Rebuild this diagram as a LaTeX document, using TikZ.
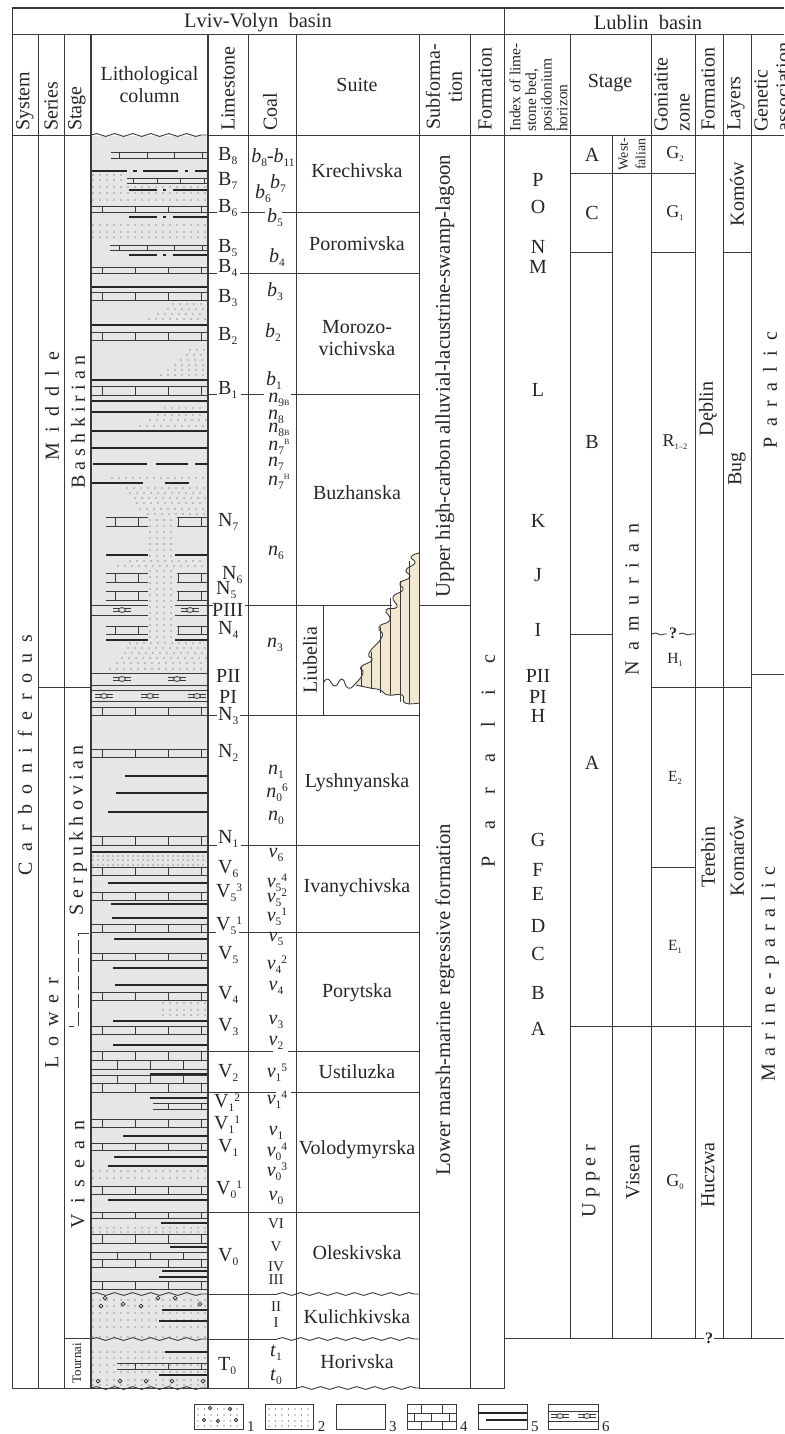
\documentclass[tikz,border=0pt]{standalone}
\usepackage{fontspec}
\setmainfont{Liberation Serif}
\usetikzlibrary{decorations.pathmorphing}
\definecolor{rulegray}{HTML}{3A3A3A}
\definecolor{lithgray}{HTML}{E6E6E6}
\definecolor{lensfill}{HTML}{F2E8D2}
\newcommand{\subn}[1]{\raisebox{-4pt}{\fontsize{11.5}{11.5}\selectfont #1}}
\newcommand{\supn}[1]{\raisebox{6pt}{\fontsize{11.5}{11.5}\selectfont #1}}
\newcommand{\subt}[1]{\raisebox{-3pt}{\fontsize{8}{8}\selectfont #1}}
\newcommand{\subz}[1]{\raisebox{-3pt}{\fontsize{8.5}{8.5}\selectfont #1}}
\newcommand{\ci}[1]{\textit{#1}}
\newcommand{\spread}[2]{\makebox[#1pt][s]{#2}}
\newcommand{\limeband}[4]{% y1, y2, left end, verticals
  \draw[limeline] (#3,#1) -- (208,#1) (#3,#2) -- (208,#2);
  \begin{scope}
    \clip (#3,#1) rectangle (208,#2);
    \foreach \xx in #4 {\draw[limeline] (\xx,#1) -- (\xx,#2);}
  \end{scope}}
\newcommand{\limesides}[2]{% y1, y2, broken by the sandy funnel
  \draw[limeline] (106,#1) -- (148,#1) (106,#2) -- (148,#2) (177,#1) -- (208,#1) (177,#2) -- (208,#2);
  \foreach \xx in {115,138,178,201} {\draw[limeline] (\xx,#1) -- (\xx,#2);}}
\newcommand{\dotrow}[4]{% y, x1, x2, step
  \pgfmathsetmacro{\nextx}{#2+#4}
  \foreach \xx in {#2,\nextx,...,#3} {\fill[rulegray] (\xx,#1) circle (.65pt);}}
\newcommand{\lensmark}[2]{% x, y
  \draw[limeline] (#1-9,#2-1.6) -- (#1+9,#2-1.6) (#1-9,#2+1.6) -- (#1+9,#2+1.6);
  \draw[limeline,fill=lithgray] (#1,#2) ellipse (3.4pt and 2.4pt);}
\tikzset{
    limeline/.style={draw=rulegray, line width=.85pt},
    coalbar/.style={draw=black!85, line width=2.8pt},
    grid/.style={draw=rulegray, line width=.9pt},
    wavy/.style={draw=rulegray, line width=.9pt, decorate, decoration={snake, amplitude=1.4pt, segment length=18pt}}
}
\begin{document}
\begin{tikzpicture}[x=1pt, y=-1pt,
    txt/.style={font=\fontsize{20}{22}\selectfont, text=black!85, inner sep=0pt},
    rot/.style={txt, rotate=90},
    rotup/.style={rot, anchor=west},
    small/.style={inner sep=0pt, text=black!85, font=\fontsize{13}{15.6}\selectfont},
    limelab/.style={txt, anchor=west},
    coallab/.style={txt}]

\useasboundingbox (0,0) rectangle (784,1434);

% Lithological column background
\fill[lithgray] (91,136) rectangle (208,1388);

% Sandstone dots
\foreach \y in {175,180} {\dotrow{\y}{93}{127}{7}}
\foreach \y in {187,193,200,225,232,237} {\dotrow{\y}{93}{206}{7}}
\foreach \y/\a in {304/173,309/168,314/158,319/149,350/190,355/187,360/181,365/175,370/168,375/161,
    408/165,415/158,420/150,426/140,478/112,488/127,493/130,498/135,503/137,509/140,514/148,561/130,566/118,
    643/130,648/128,653/125,658/122,663/117,669/110,1003/163,1010/163,1015/163} {\dotrow{\y}{\a}{206}{7}}
\foreach \y in {520,526,532,538,544,550,556,571,577,583,589,595,601,607,613,619,625,631,637}
    {\dotrow{\y}{150}{174}{7}}
\foreach \y in {856,860,865} {\dotrow{\y}{93}{206}{5}}
\foreach \y in {1171,1178,1228,1232,1300,1306,1313,1320,1327,1337,1358,1365,1372,1380,1385} {\dotrow{\y}{93}{206}{7}}
\dotrow{1352}{93}{165}{7}

% Pebbles
\foreach \x/\y in {105/1298,158/1298,175/1298,101/1306,123/1304,141/1306,200/1304,98/1381,120/1381,146/1381,172/1381,203/1381}
    \draw[limeline] (\x,\y) circle (1.9pt);

% Limestone beds
\limeband{152}{158}{111}{{119,147,174,202}}
\limeband{178}{183}{127}{{133,157,180,204}}
\limeband{245}{250}{110}{{119,147,174,202}}
\foreach \a/\b in {206/212,267/273,292/300,332/340,386/395,707/715,749/757,836/845,867/875,892/900,924/932,953/960,992/1000,
    1026/1034,1051/1060,1083/1092,1119/1127,1143/1150,1186/1194,1212/1218,1234/1243,1259/1267,1281/1289}
    {\limeband{\a}{\b}{91}{{102,135,168,201}}}
\limeband{1060}{1069}{91}{{117,150,183}}
\limeband{1075}{1083}{91}{{117,150,183}}
\limeband{1252}{1259}{91}{{117,150,183}}
\limeband{1103}{1109}{153}{{168,201}}
\limeband{1363}{1369}{117}{{135,168,201}}
\limesides{517}{526}
\limesides{573}{582}
\limesides{591}{600}
\limesides{626}{634}

% Siderite lenses
\foreach \a/\b in {91/148,175/208} \draw[limeline] (\a,605) -- (\b,605) (\a,615) -- (\b,615);
\draw[limeline] (91,673) -- (208,673) (91,685) -- (208,685) (91,690) -- (208,690) (91,701) -- (208,701);
\foreach \x/\y in {122/610,190/610,122/679,177/679,104/696,150/696,197/696} {\lensmark{\x}{\y}}

% Coal seams
\foreach \y in {287,325,380,401,412,431,448,852} \draw[coalbar] (91,\y) -- (208,\y);
\foreach \y/\a in {776/125,793/116,812/108,883/108,904/111,918/112,939/114,968/113,985/115,1021/113,1045/113,1098/150,
    1136/123,1157/114,1166/108,1200/108,1223/161,1247/170,1271/162,1277/159,1310/162,1321/159,1352/165,1375/159}
    \draw[coalbar] (\a,\y) -- (208,\y);
\draw[coalbar, line width=1.3pt] (150,1074) -- (208,1074);
\draw[coalbar] (91,171) -- (127,171) (133,171) -- (137,171) (143,171) -- (178,171) (185,171) -- (188,171) (195,171) -- (208,171);
\foreach \y in {190,217,255}
    \draw[coalbar] (129,\y) -- (157,\y) (163,\y) -- (166,\y) (173,\y) -- (208,\y);
\draw[coalbar] (93,464) -- (147,464) (156,464) -- (188,464) (195,464) -- (208,464);
\draw[coalbar] (91,483) -- (143,483) (165,483) -- (189,483);
\foreach \a/\b in {106/148,175/208} \draw[coalbar] (\a,555) -- (\b,555) (\a,640) -- (\b,640);

% Liubelia tongue
\fill[lensfill] plot[smooth, tension=.9] coordinates {(419,553) (411,557) (415,563) (406,570) (410,577) (400,583) (403,590) (393,597)
    (397,607) (386,610) (390,620) (379,627) (382,637) (369,653) (372,660) (361,667) (363,673) (356,683)}
    -- plot[smooth, tension=.9] coordinates {(356,685) (370,688) (380,690) (388,695) (402,695) (405,703) (419,703)} -- cycle;
\foreach \x/\a/\b in {409/561/703,400/581/702,390/598/695,380/627/693,371/652/689,361/667/687}
    \draw[limeline] (\x,\a) -- (\x,\b);
\draw[grid] plot[smooth, tension=.9] coordinates {(323.5,683) (328,679) (335,686) (342,679) (348,688) (356,683) (363,673)
    (361,667) (372,660) (369,653) (382,637) (379,627) (390,620) (386,610) (397,607) (393,597) (403,590) (400,583) (410,577)
    (406,570) (415,563) (411,557) (419,553)};
\draw[grid] plot[smooth, tension=.9] coordinates {(356,685) (370,688) (380,690) (388,695) (402,695) (405,703) (419,703)};

% Table rules
\foreach \x in {12,38,64.5,296,248,419,470,504.5} \draw[grid] (\x,34) -- (\x,1388);
\foreach \x in {91,208} \draw[grid, line width=1.2pt] (\x,34) -- (\x,1388);
\foreach \x in {570,651,695,723,751} \draw[grid] (\x,34) -- (\x,1338);
\draw[grid] (612,135) -- (612,1338);
\draw[grid] (12,8) -- (12,34) (504.5,8) -- (504.5,34);
\draw[grid, line width=1.2pt] (12,8) -- (784,8);
\draw[grid] (12,34) -- (784,34);
\draw[grid] (12,135) -- (91,135) (208,135) -- (784,135);
\draw[wavy] (91,135) -- (208,135);
\draw[grid] (38,687.5) -- (91,687.5);
\draw[grid] (64.5,1338.5) -- (91,1338.5);
\draw[grid, dash pattern=on 14pt off 4pt] (89,933) -- (78,933) -- (78,1026) -- (69,1026);
\draw[grid] (323.5,605) -- (323.5,715);

% Suite boundaries
\foreach \y/\p in {212/{208/217,241/265,282/419},273/{208/217,240/419},394.6/{208/217,241/264,291/419},
    715/{208/217,240/419},845/{208/217,241/419},932/{208/216,239/419},1051/{208/273,288/419},
    1092/{208/276,291/419},1212/{208/419},1294/{208/277},1339/{208/277},1388/{12/297,419/504.5}}
    {\foreach \a/\b in \p {\draw[grid] (\a,\y) -- (\b,\y);}}
\draw[grid] (208,605) -- (213,605) (245,605) -- (392,605) (419,605) -- (470,605);
\draw[wavy] (277,1294) -- (419,1294);
\draw[wavy] (277,1339) -- (419,1339);
\draw[wavy] (297,1388) -- (419,1388);
\draw[wavy] (91,1294) -- (208,1294);
\draw[wavy] (91,1339) -- (208,1339);
\draw[wavy] (91,1388) -- (208,1388);

% Lublin boundaries
\draw[grid] (570,173) -- (695,173);
\draw[grid] (570,252) -- (612,252) (651,252) -- (695,252) (723,252) -- (751,252);
\draw[grid] (570,634) -- (612,634);
\draw[grid] (651,687) -- (751,687);
\draw[grid] (751,674) -- (784,674);
\draw[grid] (651,867) -- (695,867);
\draw[grid] (570,1026) -- (751,1026);
\draw[grid] (504.5,1338.5) -- (704,1338.5) (714,1338.5) -- (784,1338.5);
\draw[wavy, decoration={segment length=11pt, amplitude=1pt}] (652,634) -- (667,634);
\draw[wavy, decoration={segment length=11pt, amplitude=1pt}] (679,634) -- (695,634);

% Basin titles and column heads
\node[txt, font=\fontsize{20.5}{22}\selectfont] (lviv) at (258,23) {Lviv-Volyn\ \ basin};
\node[txt, font=\fontsize{20.5}{22}\selectfont] (lublin) at (648,22) {Lublin\ \ basin};
\foreach \x/\t in {25/System,51/Series,77/Stage,228/Limestone,270/Coal,485/Formation,708/Formation,736/Layers}
    \node[rotup] (head\x) at (\x,131) {\t};
\node[txt, align=center] (lithhead) at (149.5,85) {Lithological\\column};
\node[txt] (suitehead) at (357,85) {Suite};
\node[rot, align=center] (subformhead) at (444,87) {Subforma-\\tion};
\node[small, rotate=90, anchor=west, align=left, font=\fontsize{15.5}{15.7}\selectfont] (indexhead) at (538.5,132) {Index of lime-\\stone bed,\\posidonium\\horizon};
\node[txt] (stagehead) at (610,83) {Stage};
\node[rotup, align=left] (goniahead) at (672,132) {Goniatite\\zone};
\node[rotup, align=left] (genhead) at (772,132) {Genetic\\association};

% Stratigraphic names
\node[rot] (system) at (25,755) {\spread{240}{C a r b o n i f e r o u s}};
\node[rot] (middle) at (52,406) {\spread{108}{M i d d l e}};
\node[rot] (lower) at (52,1023) {\spread{90}{L o w e r}};
\node[rot] (bashkirian) at (78,422) {\spread{133}{B a s h k i r i a n}};
\node[rot] (serpukhovian) at (78,830) {\spread{170}{S e r p u k h o v i a n}};
\node[rot] (visean) at (78,1174) {\spread{108}{V i s e a n}};
\node[small, rotate=90] (tournai) at (77,1363) {Tournai};

% Limestone indices
\foreach \x/\y/\t in {218/156/B\subn{8},218/181/B\subn{7},218/208/B\subn{6},218/248/B\subn{5},218/268/B\subn{4},218/298/B\subn{3},
    218/336/B\subn{2},218/390/B\subn{1},218/522/N\subn{7},222/575/N\subn{6},216/590/N\subn{5},212/610/PIII,218/630/N\subn{4},
    216/676/PII,219/697/PI,218/716/N\subn{3},218/753/N\subn{2},218/839/N\subn{1},218/869/V\subn{6},216/893/V\subn{5}\supn{3},
    216/926/V\subn{5}\supn{1},218/955/V\subn{5},218/995/V\subn{4},218/1027/V\subn{3},218/1073/V\subn{2},214/1103/V\subn{1}\supn{2},
    214/1125/V\subn{1}\supn{1},218/1148/V\subn{1},216/1190/V\subn{0}\supn{1},218/1257/V\subn{0},218/1366/T\subn{0}}
    \node[limelab] (lime\y) at (\x,\y) {\t};

% Coal indices
\foreach \x/\y/\t in {273/158/\ci{b}\subn{8}-\ci{b}\subn{11},278/184/\ci{b}\subn{7},263/194/\ci{b}\subn{6},275/218/\ci{b}\subn{5},
    277/258/\ci{b}\subn{4},275/292/\ci{b}\subn{3},273/333/\ci{b}\subn{2},274/381/\ci{b}\subn{1},
    279/400/\ci{n}\subn{9}\subt{B},276/417/\ci{n}\subn{8},279/430/\ci{n}\subn{8}\subt{B},279/447/\ci{n}\subn{7}\raisebox{9pt}{\subt{B}},
    276/464/\ci{n}\subn{7},279/482/\ci{n}\subn{7}\raisebox{9pt}{\subt{H}},276/553/\ci{n}\subn{6},275/645/\ci{n}\subn{3},
    276/772/\ci{n}\subn{1},277/793/\ci{n}\subn{0}\supn{6},276/818/\ci{n}\subn{0},276/855/\ci{v}\subn{6},277/883/\ci{v}\subn{5}\supn{4},
    277/898/\ci{v}\subn{5}\supn{2},277/917/\ci{v}\subn{5}\supn{1},276/939/\ci{v}\subn{5},277/965/\ci{v}\subn{4}\supn{2},
    276/988/\ci{v}\subn{4},276/1022/\ci{v}\subn{3},276/1043/\ci{v}\subn{2},277/1073/\ci{v}\subn{1}\supn{5},277/1100/\ci{v}\subn{1}\supn{4},
    276/1133/\ci{v}\subn{1},277/1152/\ci{v}\subn{0}\supn{4},277/1172/\ci{v}\subn{0}\supn{3},276/1198/\ci{v}\subn{0},
    276/1353/\ci{t}\subn{1},276/1377/\ci{t}\subn{0}}
    \node[coallab] (coal\y) at (\x,\y) {\t};
\foreach \y/\t in {1224/VI,1247/V,1267/IV,1280/III,1307/II,1323/I}
    \node[small, font=\fontsize{15}{15}\selectfont] (roman\y) at (276,\y) {\t};

% Suites
\foreach \y/\t in {171/Krechivska,244/Poromivska,493/Buzhanska,783/Lyshnyanska,888/Ivanychivska,993/Porytska,1072/Ustiluzka,
    1150/Volodymyrska,1253/Oleskivska,1317/Kulichkivska,1362/Horivska}
    \node[txt] (suite\y) at (357,\y) {\t};
\node[txt, align=center] (morozo) at (357,338) {Morozo-\\vichivska};
\node[rot] (liubelia) at (310,660) {Liubelia};
\node[rot, font=\fontsize{20.8}{22}\selectfont] (upperform) at (445,376) {Upper high-carbon alluvial-lacustrine-swamp-lagoon};
\node[rot, font=\fontsize{20.8}{22}\selectfont] (lowerform) at (445,1000) {Lower marsh-marine regressive formation};
\node[rot] (paralicL) at (488,761) {\spread{212}{P a r a l i c}};

% Lublin basin column
\foreach \y/\t in {180/P,207/O,247/N,267/M,390/L,521/K,575/J,630/I,676/PII,697/PI,716/H,840/G,870/F,894/E,926/D,954/C,993/B,1029/A}
    \node[txt] (index\y) at (538,\y) {\t};
\foreach \y/\t in {155/A,213/C,442/B,763/A} \node[txt] (stage\y) at (592,\y) {\t};
\node[small, rotate=90, align=center, font=\fontsize{14}{17.5}\selectfont] (westfalian) at (632,154) {West-\\falian};
\node[rot] (namurian) at (632,599) {\spread{152}{N a m u r i a n}};
\node[rot] (upperst) at (591,1181) {\spread{72}{U p p e r}};
\node[rot] (viseanst) at (633,1172) {Visean};
\foreach \y/\t in {154/G\subz{2},213/G\subz{1},442/R\subz{1--2},1182/G\subz{0}}
    \node[txt, font=\fontsize{18}{18}\selectfont] (zone\y) at (675,\y) {\t};
\foreach \y/\t in {660/H\subz{1},778/E\subz{2},947/E\subz{1}}
    \node[txt, font=\fontsize{15.5}{18}\selectfont] (zone\y) at (675,\y) {\t};
\node[txt, font=\fontsize{16}{16}\bfseries] (query) at (673,633) {?};
\node[txt, font=\fontsize{16}{16}\bfseries] (querytwo) at (709,1338) {?};
\foreach \y/\t in {409/Dęblin,857/Terebin,1175/Huczwa} \node[rot] (form\y) at (708,\y) {\t};
\foreach \y/\t in {194/Komów,469/Bug,856/Komarów} \node[rot] (layer\y) at (737,\y) {\t};
\node[rot] (paralicR) at (770,390) {\spread{116}{P a r a l i c}};
\node[rot] (marine) at (770,974) {\spread{215}{M a r i n e - p a r a l i c}};

% Legend
\foreach \a/\b/\n in {194/243/1,265/313.6/2,336/385/3,407/456/4,478/527/5,548/598/6} {
    \draw[grid] (\a,1404) rectangle (\b,1429);
    \node[txt, font=\fontsize{15}{15}\selectfont, anchor=base west] (key\n) at (\b+4,1431) {\n};
}
\foreach \a/\b in {194/243,265/313.6} {\foreach \y in {1409,1415,1421,1426} {
    \pgfmathsetmacro{\aa}{\a+4} \pgfmathsetmacro{\bb}{\b-2}
    \dotrow{\y}{\aa}{\bb}{6.5}
}}
\foreach \x/\y in {210/1408,230/1409,204/1420,218/1421,236/1420} \draw[limeline] (\x,\y) circle (1.7pt);
\draw[limeline] (407,1413) -- (456,1413) (407,1421) -- (456,1421);
\foreach \x in {421,442} \draw[limeline] (\x,1404) -- (\x,1413) (\x,1421) -- (\x,1429);
\foreach \x in {414,431,449} \draw[limeline] (\x,1413) -- (\x,1421);
\draw[coalbar] (478,1413) -- (527,1413) (486,1420) -- (527,1420);
\draw[limeline] (548,1411) -- (598,1411) (548,1421) -- (598,1421);
\foreach \x in {560,587} {\lensmark{\x}{1416}}

\end{tikzpicture}
\end{document}
